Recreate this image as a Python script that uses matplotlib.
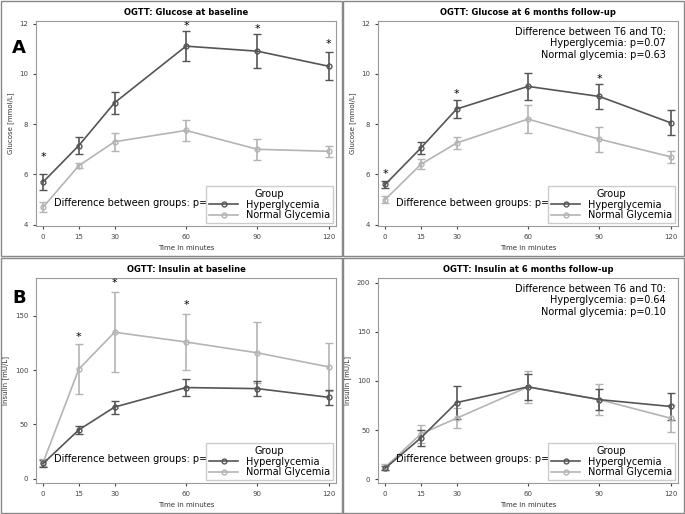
import matplotlib.pyplot as plt
from matplotlib.patches import Rectangle
from matplotlib.lines import Line2D

time = [0, 15, 30, 60, 90, 120]

glu0_hyper = [5.7, 7.15, 8.85, 11.1, 10.9, 10.3]
glu0_hyper_err = [0.3, 0.33, 0.43, 0.6, 0.68, 0.55]
glu0_norm = [4.7, 6.35, 7.3, 7.75, 7.0, 6.92]
glu0_norm_err = [0.2, 0.1, 0.35, 0.42, 0.42, 0.23]

glu6_hyper = [5.6, 7.05, 8.6, 9.5, 9.1, 8.05]
glu6_hyper_err = [0.12, 0.25, 0.35, 0.55, 0.5, 0.5]
glu6_norm = [5.0, 6.4, 7.25, 8.2, 7.4, 6.7]
glu6_norm_err = [0.15, 0.2, 0.25, 0.55, 0.5, 0.25]

ins0_hyper = [14, 45, 66, 84, 83, 75]
ins0_hyper_err = [3, 4, 6, 8, 7, 7]
ins0_norm = [15, 101, 135, 126, 116, 103]
ins0_norm_err = [3, 23, 37, 26, 28, 22]

ins6_hyper = [11, 42, 78, 94, 81, 74]
ins6_hyper_err = [2, 8, 17, 13, 11, 14]
ins6_norm = [12, 46, 62, 94, 81, 62]
ins6_norm_err = [3, 9, 10, 16, 16, 14]

DARK = '#555555'
LIGHT = '#b4b4b4'
W, H = 685, 514

fig = plt.figure(figsize=(6.85, 5.14), dpi=100)
for (x0, y0) in [(0, 0), (342, 0), (0, 257), (342, 257)]:
    fig.patches.append(Rectangle((x0 / W + 0.001, 1 - (y0 + 256) / H), 341 / W, 255 / H,
                                 transform=fig.transFigure, fill=False,
                                 edgecolor='#888888', lw=1))


def panel(x0, y0, title, ylabel, ylim, yticks, hy, hye, no, noe, stars, pdiff, note):
    ax = fig.add_axes([(x0 + 36) / W, 1 - (y0 + 226) / H, 300 / W, 205 / H])
    ax.errorbar(time, no, yerr=noe, color=LIGHT, marker='o', ms=3.5, mfc='none',
                capsize=3, lw=1.2)
    ax.errorbar(time, hy, yerr=hye, color=DARK, marker='o', ms=3.5, mfc='none',
                capsize=3, lw=1.2)
    for t, yv in stars:
        ax.text(t, yv, '*', ha='center', va='center', fontsize=8)
    ax.set_xlim(-3, 123)
    ax.set_ylim(*ylim)
    ax.set_xticks(time)
    ax.set_yticks(yticks)
    ax.tick_params(labelsize=5, length=2, colors='#444444')
    for s in ax.spines.values():
        s.set_color('#999999')
    ax.set_title(title, fontsize=6, fontweight='bold', pad=4)
    ax.set_xlabel('Time in minutes', fontsize=5, color='#333333')
    ax.set_ylabel(ylabel, fontsize=5, color='#333333')
    handles = [Line2D([], [], color=DARK, marker='o', ms=3.5, mfc='none', lw=1.2),
               Line2D([], [], color=LIGHT, marker='o', ms=3.5, mfc='none', lw=1.2)]
    ax.legend(handles, ['Hyperglycemia', 'Normal Glycemia'], title='Group',
              loc='lower right', fontsize=7, title_fontsize=7, fancybox=False,
              framealpha=1, borderpad=0.3, handlelength=3, labelspacing=0.05,
              borderaxespad=0.3, edgecolor='#cccccc')
    ax.text(0.06, 0.1, 'Difference between groups: p=' + pdiff, transform=ax.transAxes,
            fontsize=7)
    if note:
        ax.text(0.96, 0.97, note, transform=ax.transAxes, ha='right', va='top',
                fontsize=7, multialignment='right', linespacing=1.15)
    return ax


panel(0, 0, 'OGTT: Glucose at baseline', 'Glucose [mmol/L]', (3.95, 12.1), [4, 6, 8, 10, 12],
      glu0_hyper, glu0_hyper_err, glu0_norm, glu0_norm_err,
      [(0, 6.7), (60, 11.9), (90, 11.8), (120, 11.2)], '0.001', None)
panel(342, 0, 'OGTT: Glucose at 6 months follow-up', 'Glucose [mmol/L]', (3.95, 12.1),
      [4, 6, 8, 10, 12], glu6_hyper, glu6_hyper_err, glu6_norm, glu6_norm_err,
      [(0, 6.0), (30, 9.2), (90, 9.8)], '0.02',
      'Difference between T6 and T0:\nHyperglycemia: p=0.07\nNormal glycemia: p=0.63')
panel(0, 257, 'OGTT: Insulin at baseline', 'Insulin [mU/L]', (-4, 185), [0, 50, 100, 150],
      ins0_hyper, ins0_hyper_err, ins0_norm, ins0_norm_err,
      [(15, 131), (30, 180), (60, 160)], '0.03', None)
panel(342, 257, 'OGTT: Insulin at 6 months follow-up', 'Insulin [mU/L]', (-4, 205),
      [0, 50, 100, 150, 200], ins6_hyper, ins6_hyper_err, ins6_norm, ins6_norm_err,
      [], '0.68',
      'Difference between T6 and T0:\nHyperglycemia: p=0.64\nNormal glycemia: p=0.10')

fig.text(12 / W, 1 - 48 / H, 'A', fontsize=13, fontweight='bold', va='center')
fig.text(12 / W, 1 - 298 / H, 'B', fontsize=13, fontweight='bold', va='center')

fig.savefig('out.png', dpi=100)
